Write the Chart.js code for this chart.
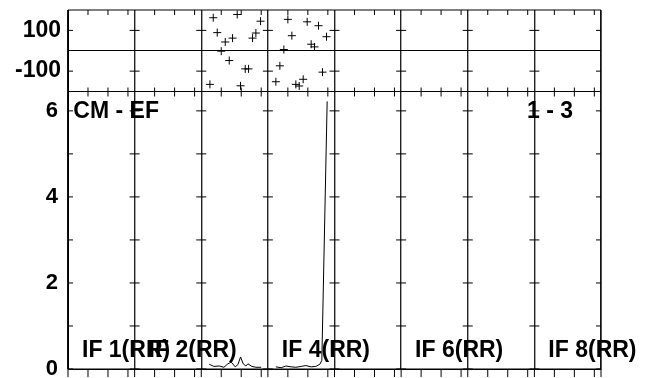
<!DOCTYPE html>
<html>
<head>
<meta charset="utf-8">
<script src="https://cdn.jsdelivr.net/npm/chart.js@4/dist/chart.umd.min.js"></script>
<style>
  body { margin: 0; background: #fff; }
  canvas { display: block; }
</style>
</head>
<body>
<canvas id="myChart" width="645" height="378"></canvas>
<script>
// top panel: angle scatter (x in panel units, y in degrees)
const angleX = [
  21.8, 25.4, 28.9, 22.4, 23.6, 24.7, 27.7, 28.2, 23.0, 24.2, 26.6, 27.1, 21.3, 25.9,
  33.0, 35.9, 37.6, 33.6, 38.8, 36.5, 37.0, 32.4, 31.8, 38.2, 31.2, 35.3, 34.2, 34.7,
];
const angleY = [
  162, 178, 145, 89, 43, 62, 62, 87, -2, -48, -89, -89, -165, -172,
  154, 142, 123, 74, 69, 32, 19, 6, -74, -105, -152, -140, -165, -173,
];

// bottom panel: CM - EF distance trace (null = gap between panels)
const traceX = [
  21.2, 21.9, 22.7, 23.4, 24.0, 24.5, 25.1, 25.5, 25.9, 26.3, 26.7, 27.0, 27.6, 28.2, 29.0,
  30.0,
  31.2, 32.0, 32.7, 33.5, 34.2, 35.0, 35.7, 36.5, 37.2, 37.8, 38.1, 38.9,
];
const traceY = [
  0.11, 0.06, 0.07, 0.04, 0.12, 0.16, 0.05, 0.10, 0.28, 0.12, 0.07, 0.12, 0.06, 0.04, 0.04,
  null,
  0.05, 0.03, 0.07, 0.05, 0.04, 0.06, 0.08, 0.05, 0.06, 0.11, 0.20, 6.22,
];

const panelCount = 8;
const panelLabels = ["IF 1(RR)", "IF 2(RR)", "IF 4(RR)", "IF 6(RR)", "IF 8(RR)"];
const panelLabelIndex = [0, 1, 3, 5, 7];
const minorSteps = [3, 6, 9];
const topTicks = [-100, 0, 100];
const bottomTicks = [0, 2, 4, 6];

const FONT = "'Liberation Sans', Arial, sans-serif";

function fixWidth(scale) {
  scale.width = 68;
  scale.paddingTop = 0;
  scale.paddingBottom = 0;
}

const frameTicks = {
  id: "frameTicks",
  afterDatasetsDraw(chart) {
    const { ctx, chartArea: a, scales } = chart;
    const x = scales.x, yTop = scales.yTop, yBot = scales.yBot;
    const mid = yTop.bottom;
    ctx.save();
    ctx.strokeStyle = "#000";
    ctx.lineWidth = 1;
    ctx.beginPath();
    ctx.rect(a.left, a.top, a.right - a.left, a.bottom - a.top);
    ctx.moveTo(a.left, mid);
    ctx.lineTo(a.right, mid);
    for (let p = 0; p <= panelCount; p++) {
      const px = x.getPixelForValue(p * 10);
      ctx.moveTo(px, a.bottom);
      ctx.lineTo(px, a.bottom + 8);
      const l = Math.max(a.left, px - 5), r = Math.min(a.right, px + 5);
      [-100, 100].forEach((v) => {
        const py = yTop.getPixelForValue(v);
        ctx.moveTo(l, py);
        ctx.lineTo(r, py);
      });
      for (let v = 0; v <= 6; v++) {
        const py = yBot.getPixelForValue(v);
        ctx.moveTo(l, py);
        ctx.lineTo(r, py);
      }
      if (p === panelCount) continue;
      minorSteps.forEach((m) => {
        const mx = x.getPixelForValue(p * 10 + m);
        ctx.moveTo(mx, a.top);
        ctx.lineTo(mx, a.top + 5);
        ctx.moveTo(mx, mid - 4);
        ctx.lineTo(mx, mid + 5);
        ctx.moveTo(mx, a.bottom);
        ctx.lineTo(mx, a.bottom + 8);
      });
    }
    ctx.stroke();

    ctx.fillStyle = "#000";
    ctx.font = "bold 23px " + FONT;
    ctx.textBaseline = "alphabetic";
    ctx.textAlign = "left";
    const yLab = yBot.getPixelForValue(0.27);
    panelLabels.forEach((t, i) => {
      ctx.fillText(t, x.getPixelForValue(panelLabelIndex[i] * 10 + 2.1), yLab);
    });
    const yHead = yBot.getPixelForValue(5.83);
    ctx.fillText("CM - EF", x.getPixelForValue(0.8), yHead);
    ctx.fillText("1 - 3", x.getPixelForValue(68.9), yHead);
    ctx.restore();
  },
};

const ctx = document.getElementById("myChart").getContext("2d");

new Chart(ctx, {
  type: "scatter",
  data: {
    datasets: [
      {
        data: angleX.map((v, i) => ({ x: v, y: angleY[i] })),
        yAxisID: "yTop",
        pointStyle: "cross",
        pointRadius: 4,
        borderColor: "#000",
        borderWidth: 1,
      },
      {
        data: traceX.map((v, i) => ({ x: v, y: traceY[i] })),
        yAxisID: "yBot",
        showLine: true,
        spanGaps: false,
        borderColor: "#000",
        borderWidth: 1,
        pointRadius: 0,
        tension: 0,
      },
    ],
  },
  options: {
    responsive: false,
    animation: false,
    layout: { padding: { top: 10, right: 44, left: 0, bottom: 0 } },
    plugins: { legend: { display: false }, tooltip: { enabled: false } },
    scales: {
      x: {
        type: "linear",
        min: 0,
        max: panelCount * 10,
        afterBuildTicks: (scale) => {
          scale.ticks = [];
          for (let p = 0; p <= panelCount; p++) scale.ticks.push({ value: p * 10 });
        },
        afterFit: (scale) => {
          scale.height = 9;
          scale.paddingLeft = 0;
          scale.paddingRight = 0;
        },
        ticks: { display: false },
        grid: { color: "#222", lineWidth: 1.4, drawTicks: false },
        border: { color: "#000" },
      },
      // stacked axes are placed bottom-up in definition order
      yBot: {
        type: "linear",
        position: "left",
        stack: "panels",
        stackWeight: 277.5,
        min: 0,
        max: 6.45,
        afterBuildTicks: (scale) => {
          scale.ticks = bottomTicks.map((v) => ({ value: v }));
        },
        afterFit: fixWidth,
        ticks: {
          color: "#000",
          padding: 10,
          autoSkip: false,
          font: { family: FONT, size: 22, weight: "bold" },
        },
        grid: { display: false, drawTicks: false },
        border: { color: "#000" },
      },
      yTop: {
        type: "linear",
        position: "left",
        stack: "panels",
        stackWeight: 81.5,
        min: -200,
        max: 200,
        afterBuildTicks: (scale) => {
          scale.ticks = topTicks.map((v) => ({ value: v }));
        },
        afterFit: fixWidth,
        ticks: {
          callback: (v) => (v === 0 ? "" : String(v)),
          color: "#000",
          padding: 7,
          autoSkip: false,
          font: { family: FONT, size: 23, weight: "bold" },
        },
        grid: {
          color: (c) => (c.tick && c.tick.value === 0 ? "#000" : "rgba(0,0,0,0)"),
          drawTicks: false,
        },
        border: { color: "#000" },
      },
    },
  },
  plugins: [frameTicks],
});
</script>
</body>
</html>
